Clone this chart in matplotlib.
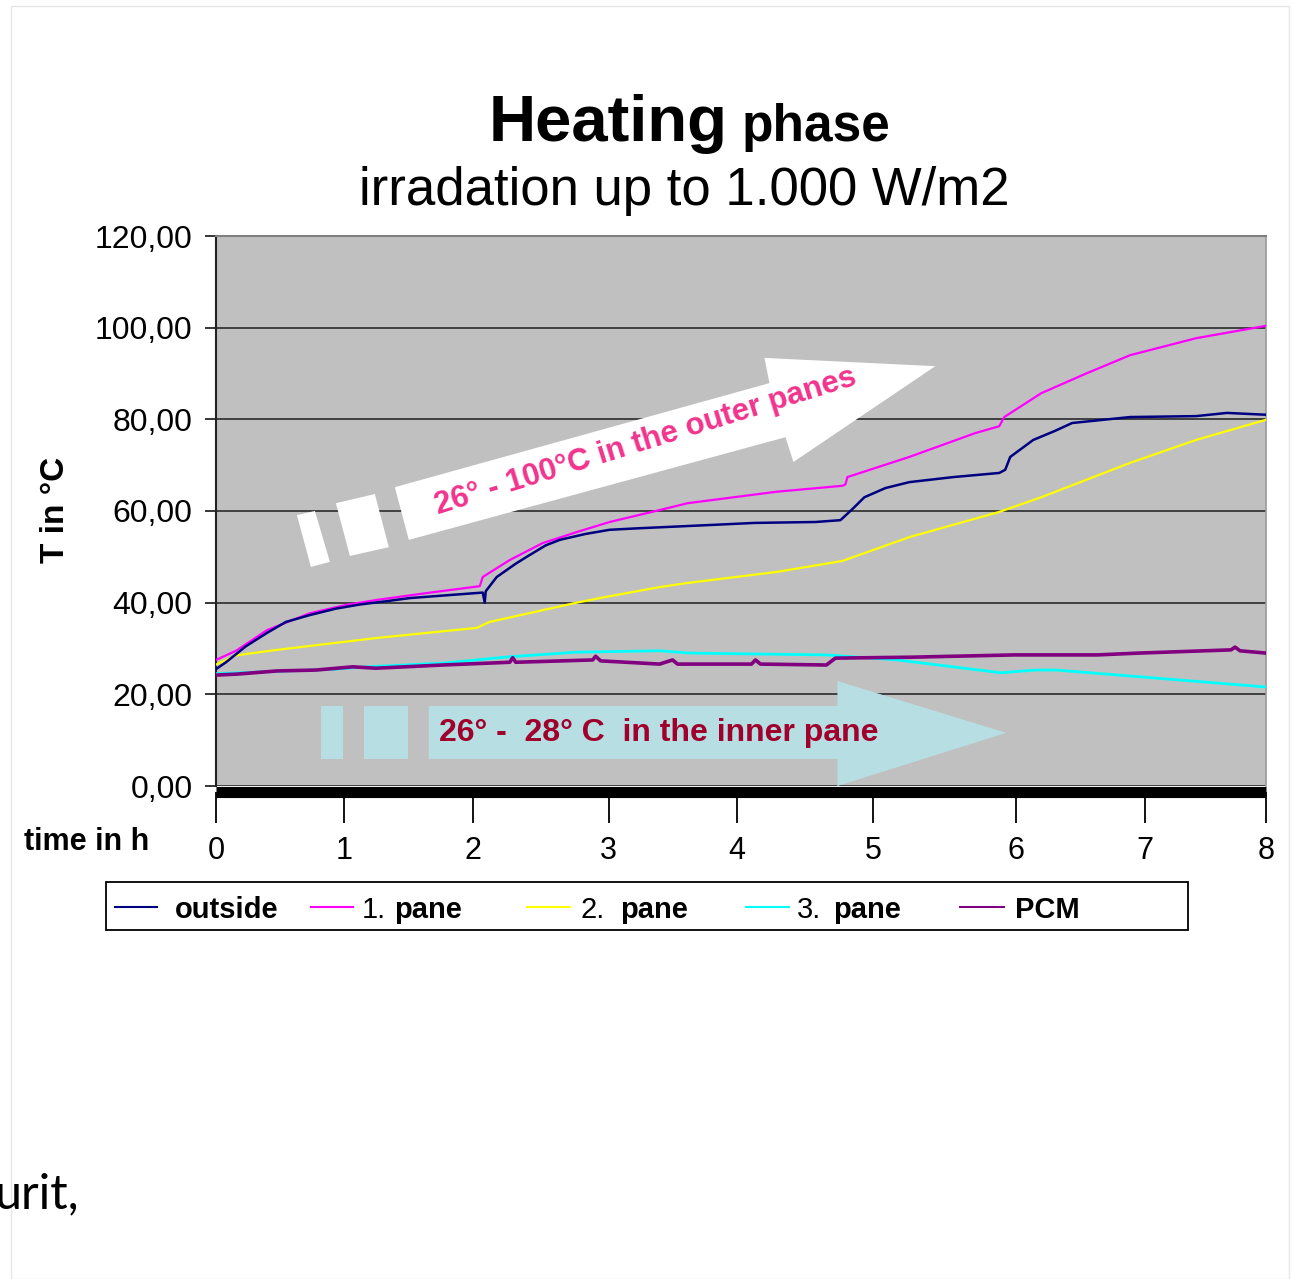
import matplotlib
matplotlib.use("Agg")
import matplotlib.pyplot as plt
from matplotlib.patches import Polygon, Rectangle
from matplotlib.lines import Line2D

W, H = 1292, 1279

# x axis = logger sample number; the hour labels sit at uneven sample positions
HOUR_POS    = [0, 128, 257, 393, 521, 658, 801, 930, 1051]
HOUR_LABELS = ["0", "1", "2", "3", "4", "5", "6", "7", "8"]
Y_TICKS       = [0, 20, 40, 60, 80, 100, 120]
Y_TICK_LABELS = ["0,00", "20,00", "40,00", "60,00", "80,00", "100,00", "120,00"]

OUTSIDE_X = [0, 10, 30, 51, 70, 94, 120, 144, 170, 194, 230, 267, 269, 270, 281, 300, 311,
             330, 344, 370, 394, 420, 450, 500, 539, 600, 625, 636, 649, 670, 694, 738, 784,
             790, 795, 818, 840, 857, 915, 981, 1012, 1051]
OUTSIDE_T = [25.5, 27.0, 30.5, 33.4, 35.8, 37.3, 38.7, 39.6, 40.3, 41.0, 41.6, 42.2, 40.0, 42.5,
             45.6, 48.5, 50.0, 52.5, 53.7, 55.0, 55.9, 56.2, 56.5, 57.0, 57.4, 57.6, 58.0, 60.2,
             63.0, 65.0, 66.3, 67.4, 68.3, 69.0, 71.8, 75.5, 77.5, 79.2, 80.5, 80.7, 81.4, 81.0]

PANE1_X = [0, 20, 51, 94, 130, 161, 211, 264, 267, 294, 327, 361, 394, 444, 472, 561, 627,
           630, 632, 694, 760, 784, 789, 826, 871, 915, 981, 1051]
PANE1_T = [27.5, 29.5, 34.0, 37.7, 39.5, 40.6, 42.1, 43.6, 45.6, 49.3, 53.0, 55.4, 57.6, 60.2,
           61.7, 64.2, 65.5, 65.8, 67.4, 71.8, 77.0, 78.5, 80.5, 85.7, 90.0, 94.0, 97.7, 100.4]

PANE2_X = [0, 20, 61, 161, 261, 274, 361, 384, 444, 472, 561, 627, 694, 784, 826, 915, 981, 1051]
PANE2_T = [26.5, 28.5, 29.7, 32.3, 34.5, 35.8, 40.0, 41.0, 43.4, 44.3, 46.7, 49.1, 54.3, 59.8,
           63.0, 70.5, 75.5, 79.9]

PANE3_X = [0, 60, 120, 151, 227, 294, 361, 444, 474, 611, 682, 786, 820, 841, 966, 1051]
PANE3_T = [24.5, 25.0, 25.5, 26.0, 26.8, 28.2, 29.2, 29.5, 29.0, 28.6, 27.5, 24.7, 25.3, 25.3,
           23.1, 21.6]

PCM_X = [0, 20, 61, 100, 137, 160, 227, 294, 297, 300, 377, 380, 385, 444, 457, 462, 536, 540,
         545, 611, 620, 695, 799, 882, 924, 1016, 1020, 1025, 1051]
PCM_T = [24.2, 24.4, 25.1, 25.3, 26.0, 25.7, 26.4, 27.0, 28.0, 27.0, 27.5, 28.3, 27.3, 26.6,
         27.5, 26.6, 26.6, 27.5, 26.6, 26.4, 27.9, 28.1, 28.6, 28.6, 29.0, 29.7, 30.3, 29.5, 29.0]

SERIES = [
    # name, prefix, x, y, colour, width
    ("pane", "2.",  PANE2_X,   PANE2_T,   "#FFFF00", 1.6),
    ("pane", "1.",  PANE1_X,   PANE1_T,   "#FF00FF", 1.6),
    ("outside", "", OUTSIDE_X, OUTSIDE_T, "#000080", 1.8),
    ("pane", "3.",  PANE3_X,   PANE3_T,   "#00FFFF", 2.0),
    ("PCM", "",     PCM_X,     PCM_T,     "#800080", 2.6),
]
LEGEND_ORDER = [2, 1, 0, 3, 4]

FONT = "Liberation Sans"
plt.rcParams["font.family"] = [FONT, "DejaVu Sans"]


def fx(px):
    return px / W


def fy(py):
    return 1 - py / H


fig = plt.figure(figsize=(W / 100, H / 100), dpi=100)
fig.patch.set_facecolor("white")

# faint slide border
fig.add_artist(Rectangle((fx(11), fy(1279)), fx(1289) - fx(11), fy(6) - fy(1279),
                         transform=fig.transFigure, fill=False, edgecolor="#e6e6e6", lw=1))

ax = fig.add_axes([fx(216), fy(786), fx(1266) - fx(216), fy(236) - fy(786)])
ax.set_facecolor("#C0C0C0")

# spine placement first: moving a spine rebuilds the tick objects
ax.spines["left"].set_color("#222222")
ax.spines["left"].set_linewidth(1.5)
ax.spines["top"].set_color("#808080")
ax.spines["top"].set_linewidth(1.5)
ax.spines["right"].set_color("#9a9a9a")
ax.spines["right"].set_linewidth(1.2)
ax.spines["bottom"].set_color("black")
ax.spines["bottom"].set_linewidth(8)
ax.spines["bottom"].set_position(("outward", 4))
ax.spines["bottom"].set_capstyle("butt")

ax.set_xlim(0, 1051)
ax.set_ylim(0, 120)
ax.set_yticks(Y_TICKS)
ax.set_yticklabels(Y_TICK_LABELS)
ax.set_xticks(HOUR_POS)
ax.set_xticklabels(HOUR_LABELS)
ax.tick_params(axis="y", length=8, width=1.1, pad=9, direction="out", labelsize=23)
ax.tick_params(axis="x", length=22, width=1.3, pad=10, direction="out", labelsize=22)

ax.set_axisbelow(True)
ax.yaxis.grid(True, color="#2b2b2b", lw=1.2)

# ── annotation arrows ───────────────────────────────────────────────
for pts in [
    [(81, 59.1), (99, 60.0), (114, 48.9), (95, 47.8)],
    [(120, 61.7), (159, 63.7), (173, 52.1), (134, 50.2)],
    [(179, 65.2), (554, 87.9), (549, 93.4), (720, 91.6), (578, 70.7), (570, 76.1), (193, 53.7)],
]:
    ax.add_patch(Polygon(pts, closed=True, facecolor="white", edgecolor="none", zorder=1))

cyan_box = "#B7DEE2"
for x0, x1 in [(105, 127), (148, 192)]:
    ax.add_patch(Rectangle((x0, 5.9), x1 - x0, 17.45 - 5.9, facecolor=cyan_box,
                           edgecolor="none", zorder=1))
ax.add_patch(Polygon([(213, 5.9), (213, 17.45), (622, 17.45), (622, 22.9), (791, 11.6),
                      (622, 0), (622, 5.9)], closed=True, facecolor=cyan_box,
                     edgecolor="none", zorder=1))

ax.text(430, 75.2, "26° - 100°C in the outer panes", rotation=17.2, rotation_mode="anchor",
        ha="center", va="center", fontsize=22.5, fontweight="bold", color="#F2348C", zorder=4)
ax.text(223, 11.6, "26° -  28° C  in the inner pane", ha="left", va="center",
        fontsize=23, fontweight="bold", color="#A0002C", zorder=4)

# ── measured curves ─────────────────────────────────────────────────
for name, prefix, xs, ys, col, lw in SERIES:
    ax.plot(xs, ys, color=col, lw=lw, zorder=3, solid_joinstyle="round")

# ── titles and axis captions ────────────────────────────────────────
fig.text(fx(728), fy(141), "Heating", ha="right", va="baseline", fontsize=47, fontweight="bold")
fig.text(fx(742), fy(141), "phase", ha="left", va="baseline", fontsize=37, fontweight="bold")
fig.text(fx(684), fy(205), "irradation up to 1.000 W/m2", ha="center", va="baseline", fontsize=38)
fig.text(fx(55), fy(510), "T in °C", rotation=90, ha="center", va="center",
         fontsize=24, fontweight="bold")
fig.text(fx(24), fy(850), "time in h", ha="left", va="baseline", fontsize=22, fontweight="bold")

# ── legend box built by hand (mixed weights in the labels) ──────────
fig.add_artist(Rectangle((fx(106), fy(930)), fx(1188) - fx(106), fy(882) - fy(930),
                         transform=fig.transFigure, facecolor="white", edgecolor="black", lw=1.3))
line_x  = [(115, 157), (311, 353), (527, 570), (746, 789), (960, 1004)]
pref_x  = [None, 362, 580, 797, None]
label_x = [175, 394, 620, 833, 1015]
for k, idx in enumerate(LEGEND_ORDER):
    name, prefix, _, _, col, _ = SERIES[idx]
    x0, x1 = line_x[k]
    fig.add_artist(Line2D([fx(x0), fx(x1)], [fy(907), fy(907)], transform=fig.transFigure,
                          color=col, lw=1.5))
    if prefix:
        fig.text(fx(pref_x[k]), fy(918), prefix, ha="left", va="baseline", fontsize=21)
    fig.text(fx(label_x[k]), fy(918), name, ha="left", va="baseline", fontsize=21,
             fontweight="bold")

# fragment of the slide text, clipped at the left edge as in the source
fig.text(fx(80), fy(1208), "urit,", ha="right", va="baseline", fontsize=35,
         family=["Lato", "DejaVu Sans"])

fig.savefig("out.png", dpi=100)
